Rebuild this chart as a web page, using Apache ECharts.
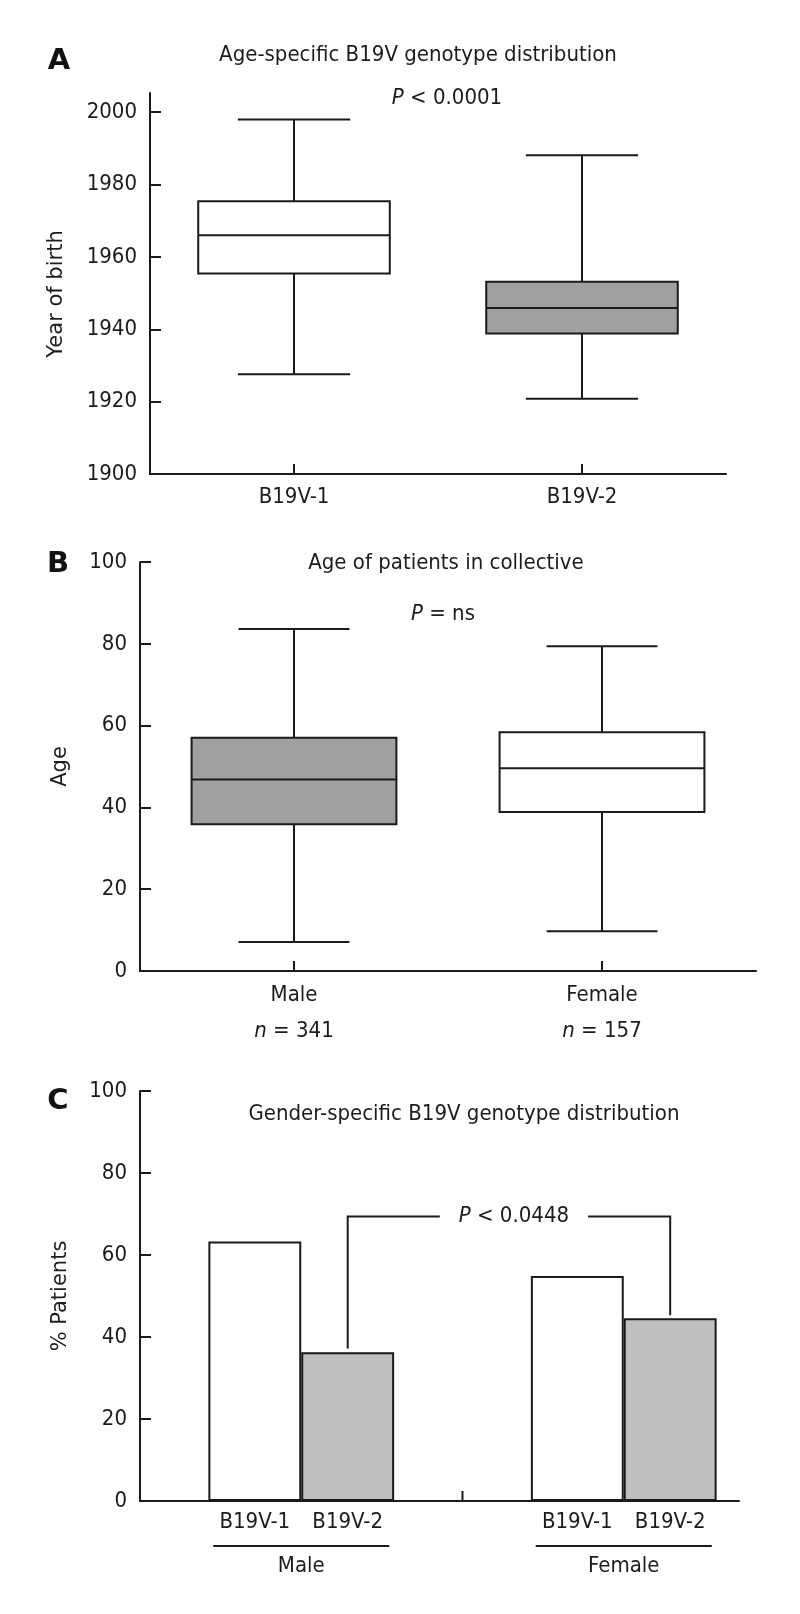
<!DOCTYPE html>
<html><head><meta charset="utf-8">
<script src="https://cdn.jsdelivr.net/npm/echarts@6/dist/echarts.min.js"></script>
<style>html,body{margin:0;padding:0;background:#fff}#c{width:800px;height:1614px}</style>
</head><body><div id="c"></div>
<script>
// ---------- Panel A : year of birth by genotype ----------
const aCategories = ['B19V-1', 'B19V-2'];
const aMin = [1927.6, 1920.8];
const aQ1 = [1955.4, 1938.8];
const aMedian = [1966.0, 1945.9];
const aQ3 = [1975.4, 1953.1];
const aMax = [1998.0, 1988.1];
const aTicks = [1900, 1920, 1940, 1960, 1980, 2000];
const aFill = ['#ffffff', '#a0a0a0'];

// ---------- Panel B : age by gender ----------
const bCategories = ['Male', 'Female'];
const bN = [341, 157];
const bMin = [7.1, 9.7];
const bQ1 = [35.9, 38.9];
const bMedian = [46.8, 49.6];
const bQ3 = [57.0, 58.4];
const bMax = [83.6, 79.4];
const bTicks = [0, 20, 40, 60, 80, 100];
const bFill = ['#a0a0a0', '#ffffff'];

// ---------- Panel C : genotype share by gender ----------
const cCategories = ['Male', 'Female'];
const cSeriesNames = ['B19V-1', 'B19V-2'];
const cGenotype1 = [63.3, 54.9];
const cGenotype2 = [36.3, 44.6];
const cBracket = [37.2, 69.4, 45.3]; // left leg end, bracket level, right leg end
const cTicks = [0, 20, 40, 60, 80, 100];

const FONT_H = "'DejaVu Sans Condensed', 'Liberation Sans Narrow', 'DejaVu Sans', sans-serif";
const FONT_V = "'DejaVu Sans', sans-serif";
const INK = '#1a1a1a';
const TXT = '#1c1c1c';
const C_BAR_FRAC = 0.288;

function boxItem(fills, boxFrac, capFrac) {
  return function (params, api) {
    const i = api.value(0);
    const band = api.size([1, 0])[0];
    const cx = api.coord([i, api.value(3)])[0];
    const y = k => api.coord([i, api.value(k)])[1];
    const yMin = y(1), yQ1 = y(2), yMed = y(3), yQ3 = y(4), yMax = y(5);
    const bw = band * boxFrac, cw = band * capFrac;
    const st = { stroke: INK, lineWidth: 2, fill: null };
    return { type: 'group', children: [
      { type: 'line', shape: { x1: cx, y1: yMax, x2: cx, y2: yMin }, style: st },
      { type: 'line', shape: { x1: cx - cw / 2, y1: yMax, x2: cx + cw / 2, y2: yMax }, style: st },
      { type: 'line', shape: { x1: cx - cw / 2, y1: yMin, x2: cx + cw / 2, y2: yMin }, style: st },
      { type: 'rect', shape: { x: cx - bw / 2, y: yQ3, width: bw, height: yQ1 - yQ3 }, style: { fill: fills[i], stroke: INK, lineWidth: 2 } },
      { type: 'line', shape: { x1: cx - bw / 2, y1: yMed, x2: cx + bw / 2, y2: yMed }, style: st }
    ] };
  };
}

function bracketItem(params, api) {
  const band = api.size([1, 0])[0];
  const half = band * C_BAR_FRAC / 2;
  const p0 = api.coord([0, 0]);
  const p1 = api.coord([1, 0]);
  const xL = p0[0] + half, xR = p1[0] + half;
  const yTop = api.coord([0, cBracket[1]])[1];
  const yL = api.coord([0, cBracket[0]])[1];
  const yR = api.coord([0, cBracket[2]])[1];
  const xMid = (p0[0] + p1[0]) / 2;
  const st = { stroke: INK, lineWidth: 2, fill: null };
  return { type: 'group', children: [
    { type: 'polyline', shape: { points: [[xL, yL], [xL, yTop], [xR, yTop], [xR, yR]] }, style: st },
    { type: 'text', x: (xL + xR) / 2 + 5, y: yTop, style: {
        text: '{i|P} < 0.0448', fontSize: 22, fontFamily: FONT_H, fill: TXT,
        align: 'center', verticalAlign: 'middle', backgroundColor: '#fff', padding: [2, 19],
        rich: { i: { fontStyle: 'italic', fontSize: 22, fontFamily: FONT_H, fill: TXT } } } },
    { type: 'line', shape: { x1: xMid, y1: p0[1], x2: xMid, y2: p0[1] - 10 }, style: st }
  ] };
}

const axisLineStyle = { color: INK, width: 2 };
function yAxisCfg(grid, min, max, ticks, name, nameGap, namePad) {
  return {
    gridIndex: grid, type: 'value', min: min, max: max,
    axisLine: { show: true, lineStyle: axisLineStyle },
    axisTick: { show: true, inside: true, length: 11, lineStyle: axisLineStyle, customValues: ticks },
    axisLabel: { customValues: ticks, formatter: v => String(v), fontSize: 22, fontFamily: FONT_H, color: TXT,
      margin: 13, showMinLabel: true, showMaxLabel: true },
    splitLine: { show: false },
    name: name, nameLocation: 'middle', nameRotate: 90, nameGap: nameGap,
    nameTextStyle: { fontSize: 21, fontFamily: FONT_V, color: TXT, padding: namePad || 0 }
  };
}
function catAxisCfg(grid, data, extra) {
  return Object.assign({
    gridIndex: grid, type: 'category', data: data,
    axisLine: { show: true, lineStyle: axisLineStyle },
    axisTick: { show: true, inside: true, length: 10, alignWithLabel: true, lineStyle: axisLineStyle },
    axisLabel: { fontSize: 22, fontFamily: FONT_H, color: TXT, margin: 12 },
    splitLine: { show: false }
  }, extra || {});
}

const titleText = (x, y, text, opts) => ({
  type: 'text', x: x, y: y, silent: true,
  style: Object.assign({ text: text, fontSize: 22, fontFamily: FONT_H, fill: TXT, align: 'center', verticalAlign: 'middle',
    rich: { i: { fontStyle: 'italic', fontSize: 22, fontFamily: FONT_H, fill: TXT } } }, opts || {})
});
const letter = (x, y, t) => titleText(x, y, t, { fontSize: 29, fontWeight: 'bold', fontFamily: FONT_V, fill: '#111' });

const chart = echarts.init(document.getElementById('c'), null, { renderer: 'canvas' });
chart.setOption({
  backgroundColor: '#ffffff',
  animation: false,
  grid: [
    { left: 150, top: 93, width: 576, height: 381, outerBoundsMode: 'none' },
    { left: 140, top: 562, width: 616, height: 409, outerBoundsMode: 'none' },
    { left: 140, top: 1091, width: 645, height: 410, outerBoundsMode: 'none' },
    { left: 140, top: 1091, width: 599, height: 410, outerBoundsMode: 'none' }
  ],
  xAxis: [
    catAxisCfg(0, aCategories),
    catAxisCfg(1, bCategories, {
      axisLabel: {
        margin: 6, color: TXT,
        formatter: (v, i) => '{t|' + v + '}\n{i|n}{t| = ' + bN[i] + '}',
        rich: {
          t: { fontSize: 22, fontFamily: FONT_H, color: TXT, lineHeight: 36 },
          i: { fontSize: 22, fontFamily: FONT_H, color: TXT, fontStyle: 'italic', lineHeight: 36 }
        }
      }
    }),
    catAxisCfg(2, cCategories, {
      axisLine: { show: false },
      axisTick: { show: false },
      axisLabel: {
        margin: 44, color: TXT,
        formatter: v => '{line| }\n{t|' + v + '}',
        rich: {
          line: { width: 176, height: 2, lineHeight: 2, backgroundColor: INK, fontSize: 2 },
          t: { fontSize: 22, fontFamily: FONT_H, color: TXT, lineHeight: 38 }
        }
      }
    }),
    { gridIndex: 3, type: 'value', min: 0, max: 1, axisLine: { show: true, lineStyle: axisLineStyle },
      axisTick: { show: false }, axisLabel: { show: false }, splitLine: { show: false } }
  ],
  yAxis: [
    yAxisCfg(0, 1900, 2005.3, aTicks, 'Year of birth', 83, [0, 21, 0, 0]),
    yAxisCfg(1, 0, 100, bTicks, 'Age', 69),
    yAxisCfg(2, 0, 100, cTicks, '% Patients', 69),
    { gridIndex: 3, type: 'value', min: 0, max: 1, show: false }
  ],
  series: [
    { type: 'custom', xAxisIndex: 0, yAxisIndex: 0, renderItem: boxItem(aFill, 0.665, 0.39),
      encode: { x: 0, y: [1, 2, 3, 4, 5] },
      data: aCategories.map((c, i) => [i, aMin[i], aQ1[i], aMedian[i], aQ3[i], aMax[i]]) },
    { type: 'custom', xAxisIndex: 1, yAxisIndex: 1, renderItem: boxItem(bFill, 0.665, 0.36),
      encode: { x: 0, y: [1, 2, 3, 4, 5] },
      data: bCategories.map((c, i) => [i, bMin[i], bQ1[i], bMedian[i], bQ3[i], bMax[i]]) },
    { type: 'bar', name: cSeriesNames[0], xAxisIndex: 2, yAxisIndex: 2, data: cGenotype1,
      barWidth: (C_BAR_FRAC * 100) + '%', barGap: '0%',
      itemStyle: { color: '#ffffff', borderColor: INK, borderWidth: 2 },
      label: { show: true, position: 'bottom', distance: 10, formatter: '{a}', fontSize: 22, fontFamily: FONT_H, color: TXT } },
    { type: 'bar', name: cSeriesNames[1], xAxisIndex: 2, yAxisIndex: 2, data: cGenotype2,
      barWidth: (C_BAR_FRAC * 100) + '%', barGap: '0%',
      itemStyle: { color: '#c0c0c0', borderColor: INK, borderWidth: 2 },
      label: { show: true, position: 'bottom', distance: 10, formatter: '{a}', fontSize: 22, fontFamily: FONT_H, color: TXT } },
    { type: 'custom', xAxisIndex: 2, yAxisIndex: 2, renderItem: bracketItem, encode: { x: 0, y: 1 },
      data: [[0, 0]], z: 5 }
  ],
  graphic: { elements: [
    letter(59, 61, 'A'),
    titleText(418, 55, 'Age-specific B19V genotype distribution'),
    titleText(447, 98, '{i|P} < 0.0001'),
    letter(58, 564, 'B'),
    titleText(446, 563, 'Age of patients in collective'),
    titleText(443, 614, '{i|P} = ns'),
    letter(58, 1101, 'C'),
    titleText(464, 1114, 'Gender-specific B19V genotype distribution')
  ] }
});
</script></body></html>
